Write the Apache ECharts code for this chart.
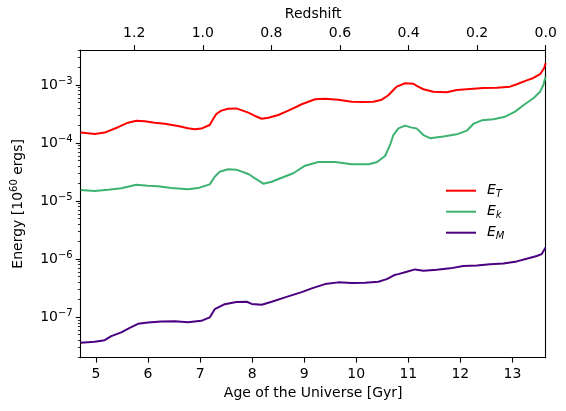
<!DOCTYPE html>
<html>
<head>
<meta charset="utf-8">
<script src="https://cdn.jsdelivr.net/npm/echarts@6/dist/echarts.min.js"></script>
<style>html,body{margin:0;padding:0;background:#fff;}#c{width:566px;height:411px;}</style>
</head>
<body>
<div id="c"></div>
<script>
// Age of the Universe [Gyr] and energies [10^60 ergs]
var agesT = [4.706,4.975,5.167,5.423,5.615,5.774,5.936,6.128,6.320,6.576,6.768,6.897,7.023,7.185,7.248,7.312,7.408,7.537,7.696,7.927,8.055,8.184,8.311,8.503,8.695,8.953,9.208,9.400,9.656,9.914,10.106,10.329,10.490,10.617,10.732,10.778,10.938,11.097,11.163,11.290,11.482,11.739,11.931,12.187,12.442,12.700,12.955,13.084,13.276,13.403,13.532,13.609,13.638];
var energyT = [1.52e-4,1.43e-4,1.51e-4,1.87e-4,2.24e-4,2.42e-4,2.37e-4,2.24e-4,2.15e-4,1.96e-4,1.79e-4,1.72e-4,1.77e-4,2.04e-4,2.56e-4,3.16e-4,3.61e-4,3.90e-4,3.94e-4,3.33e-4,2.92e-4,2.62e-4,2.73e-4,3.04e-4,3.61e-4,4.65e-4,5.66e-4,5.81e-4,5.58e-4,5.15e-4,5.09e-4,5.15e-4,5.58e-4,6.64e-4,8.53e-4,9.35e-4,1.07e-3,1.05e-3,9.61e-4,8.43e-4,7.66e-4,7.48e-4,8.20e-4,8.53e-4,8.87e-4,8.98e-4,9.35e-4,1.03e-3,1.20e-3,1.32e-3,1.53e-3,1.94e-3,2.37e-3];

var agesK = [4.706,4.975,5.231,5.486,5.774,5.999,6.191,6.447,6.768,6.960,7.185,7.281,7.377,7.537,7.696,7.927,8.055,8.215,8.376,8.568,8.791,9.016,9.272,9.593,9.914,10.233,10.394,10.553,10.650,10.713,10.809,10.938,11.067,11.163,11.290,11.418,11.674,11.931,12.123,12.250,12.412,12.635,12.859,13.052,13.211,13.403,13.532,13.595,13.638];
var energyK = [1.55e-5,1.49e-5,1.57e-5,1.66e-5,1.91e-5,1.84e-5,1.79e-5,1.67e-5,1.59e-5,1.67e-5,1.94e-5,2.62e-5,3.20e-5,3.52e-5,3.47e-5,2.92e-5,2.46e-5,1.99e-5,2.15e-5,2.52e-5,3.01e-5,4.06e-5,4.70e-5,4.70e-5,4.30e-5,4.30e-5,4.65e-5,5.97e-5,9.25e-5,1.37e-4,1.79e-4,1.99e-4,1.84e-4,1.77e-4,1.37e-4,1.21e-4,1.29e-4,1.41e-4,1.63e-4,2.13e-4,2.46e-4,2.56e-4,2.84e-4,3.47e-4,4.47e-4,5.90e-4,7.66e-4,1.0e-3,1.39e-3];

var agesM = [4.706,4.975,5.167,5.294,5.486,5.648,5.807,5.999,6.255,6.512,6.768,7.023,7.185,7.281,7.473,7.696,7.896,7.992,8.184,8.376,8.632,8.953,9.145,9.400,9.656,9.914,10.169,10.425,10.586,10.732,10.809,10.970,11.130,11.290,11.547,11.802,12.058,12.315,12.571,12.827,13.084,13.276,13.468,13.564,13.609,13.638];
var energyM = [3.61e-8,3.75e-8,4.01e-8,4.70e-8,5.45e-8,6.55e-8,7.66e-8,8.11e-8,8.43e-8,8.53e-8,8.20e-8,8.63e-8,9.89e-8,1.37e-7,1.67e-7,1.82e-7,1.84e-7,1.69e-7,1.63e-7,1.84e-7,2.19e-7,2.70e-7,3.13e-7,3.71e-7,3.97e-7,3.86e-7,3.90e-7,4.06e-7,4.52e-7,5.30e-7,5.51e-7,6.04e-7,6.64e-7,6.28e-7,6.55e-7,6.92e-7,7.57e-7,7.78e-7,8.11e-7,8.43e-7,9.12e-7,1.01e-6,1.13e-6,1.22e-6,1.43e-6,1.59e-6];

var ageTicks = [5,6,7,8,9,10,11,12,13];
var redshiftTicks = [0,0.2,0.4,0.6,0.8,1.0,1.2];
var energyMajorTicks = [1e-7,1e-6,1e-5,1e-4,1e-3];
var energyMinorTicks = [];
[1e-8,1e-7,1e-6,1e-5,1e-4,1e-3].forEach(function(d){ for (var m=2;m<=9;m++){ var v=m*d; if (v>=2e-8*0.999 && v<=4e-3*1.001) energyMinorTicks.push(v);} });

var xMin = 4.706, xMax = 13.64;
var zMax = 1.356;
var yMin = 2e-8, yMax = 4e-3;

function zip(a,b){ return a.map(function(x,i){ return [x,b[i]]; }); }

var FONT = 'DejaVu Sans';
var GRID = {left:80.7, right:20.3, top:50, bottom:53.3, containLabel:false};
var chart = echarts.init(document.getElementById('c'), null, {renderer:'canvas'});
var axisLineStyle = {color:'#000', width:1.1};
chart.setOption({
  animation:false,
  backgroundColor:'#fff',
  textStyle:{fontFamily:FONT},
  grid:[Object.assign({}, GRID), Object.assign({}, GRID)],
  xAxis:[
    {type:'value', gridIndex:0, min:xMin, max:xMax, position:'bottom',
     name:'Age of the Universe [Gyr]', nameLocation:'middle', nameGap:29,
     nameTextStyle:{fontFamily:FONT, fontSize:14, color:'#000'},
     axisLine:{show:true, onZero:false, lineStyle:axisLineStyle},
     axisTick:{show:true, inside:false, length:4.9, lineStyle:{color:'#000', width:1.1}, customValues:ageTicks},
     axisLabel:{show:true, margin:9.5, fontFamily:FONT, fontSize:14, color:'#000', customValues:ageTicks},
     splitLine:{show:false}},
    {type:'value', gridIndex:0, min:0, max:zMax, inverse:true, position:'top',
     name:'Redshift', nameLocation:'middle', nameGap:27.5,
     nameTextStyle:{fontFamily:FONT, fontSize:14, color:'#000'},
     axisLine:{show:true, onZero:false, lineStyle:axisLineStyle},
     axisTick:{show:true, inside:false, length:4.9, lineStyle:{color:'#000', width:1.1}, customValues:redshiftTicks},
     axisLabel:{show:true, margin:9.5, fontFamily:FONT, fontSize:14, color:'#000', customValues:redshiftTicks,
       formatter:function(v){ return v.toFixed(1); }},
     splitLine:{show:false}},
    {type:'value', gridIndex:1, min:xMin, max:xMax, show:false}
  ],
  yAxis:[
    {type:'log', gridIndex:0, logBase:10, min:yMin, max:yMax, position:'left',
     name:'{a|Energy [10}{s|60}{a| ergs]}', nameLocation:'middle', nameGap:53,
     nameTextStyle:{fontFamily:FONT, fontSize:14, color:'#000',
       rich:{a:{fontFamily:FONT, fontSize:14, lineHeight:18, color:'#000'},
             s:{fontFamily:FONT, fontSize:10, lineHeight:10, verticalAlign:'top', color:'#000'}}},
     axisLine:{show:true, onZero:false, lineStyle:axisLineStyle},
     axisTick:{show:true, inside:false, length:4.9, lineStyle:{color:'#000', width:1.1}, customValues:energyMajorTicks},
     axisLabel:{show:true, margin:8, color:'#000', customValues:energyMajorTicks,
       formatter:function(v){ var e=Math.round(Math.log10(v)); return '{b|10}{s|\u2212'+(-e)+'}'; },
       rich:{b:{fontFamily:FONT, fontSize:14, lineHeight:18, color:'#000'},
             s:{fontFamily:FONT, fontSize:10, lineHeight:10, verticalAlign:'top', color:'#000'}}},
     splitLine:{show:false}},
    {type:'log', gridIndex:0, logBase:10, min:yMin, max:yMax, position:'right',
     axisLine:{show:true, onZero:false, lineStyle:axisLineStyle},
     axisTick:{show:false}, axisLabel:{show:false}, splitLine:{show:false}},
    {type:'log', gridIndex:1, logBase:10, min:yMin, max:yMax, position:'left',
     axisLine:{show:false},
     axisTick:{show:true, inside:false, length:2.8, lineStyle:{color:'#000', width:0.8}, customValues:energyMinorTicks},
     axisLabel:{show:false},
     splitLine:{show:false}}
  ],
  legend:{
    orient:'vertical', left:446, top:183.7, padding:0, itemGap:5,
    itemWidth:30, itemHeight:2, icon:'rect',
    data:['ET','Ek','EM'],
    formatter:function(n){ return '{i|E}{u|'+n.charAt(1)+'}'; },
    textStyle:{padding:[0,0,0,6], rich:{
      i:{fontFamily:FONT, fontStyle:'italic', fontSize:14, lineHeight:18, color:'#000'},
      u:{fontFamily:FONT, fontStyle:'italic', fontSize:10, lineHeight:10, verticalAlign:'bottom', color:'#000'}}}
  },
  series:[
    {name:'ET', type:'line', xAxisIndex:0, yAxisIndex:0, data:zip(agesT,energyT), showSymbol:false, symbol:'none',
     lineStyle:{color:'#ff0000', width:2}, itemStyle:{color:'#ff0000'}, clip:true},
    {name:'Ek', type:'line', xAxisIndex:0, yAxisIndex:0, data:zip(agesK,energyK), showSymbol:false, symbol:'none',
     lineStyle:{color:'#3cb371', width:2}, itemStyle:{color:'#3cb371'}, clip:true},
    {name:'EM', type:'line', xAxisIndex:0, yAxisIndex:0, data:zip(agesM,energyM), showSymbol:false, symbol:'none',
     lineStyle:{color:'#4b0082', width:2}, itemStyle:{color:'#4b0082'}, clip:true}
  ]
});
</script>
</body>
</html>
